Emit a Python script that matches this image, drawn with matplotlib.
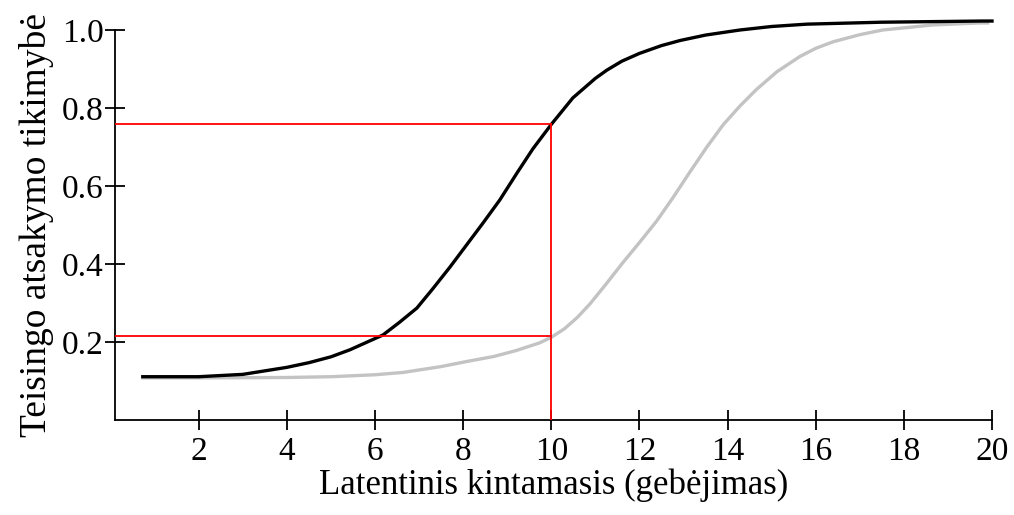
import numpy as np
import matplotlib
matplotlib.use("Agg")
import matplotlib.pyplot as plt

# values
black_x = [0.73, 2.0, 3.0, 4.0, 4.5, 5.0, 5.43, 6.18, 6.55, 6.95, 7.30, 7.70, 8.45,
           8.83, 9.22, 9.58, 10.0, 10.49, 11.0, 11.26, 11.6, 12.0, 12.5, 12.92, 13.5,
           14.28, 15.0, 15.8, 17.5, 19.8, 20.0]
black_y = [0.111, 0.111, 0.117, 0.135, 0.147, 0.162, 0.18, 0.218, 0.25, 0.287, 0.335,
           0.392, 0.505, 0.564, 0.633, 0.695, 0.758, 0.826, 0.876, 0.897, 0.92, 0.94,
           0.96, 0.973, 0.987, 1.0, 1.009, 1.015, 1.02, 1.023, 1.023]

gray_x = [0.73, 2.0, 4.0, 5.0, 6.0, 6.64, 7.5, 8.08, 8.7, 9.2, 9.74, 10.0, 10.3,
          10.6, 10.88, 11.26, 11.62, 12.0, 12.39, 12.76, 13.14, 13.53, 13.9, 14.28,
          14.66, 15.12, 15.64, 16.0, 16.4, 17.0, 17.52, 18.66, 19.7, 19.9]
gray_y = [0.108, 0.108, 0.109, 0.111, 0.116, 0.122, 0.137, 0.150, 0.163, 0.178, 0.198,
          0.212, 0.234, 0.264, 0.298, 0.351, 0.403, 0.455, 0.51, 0.57, 0.635, 0.70,
          0.757, 0.805, 0.848, 0.893, 0.932, 0.953, 0.97, 0.988, 1.0, 1.013, 1.018,
          1.018]

ref_x = 10
ref_hi = 0.76
ref_lo = 0.215

x_ticks = [2, 4, 6, 8, 10, 12, 14, 16, 18, 20]
y_ticks = [0.2, 0.4, 0.6, 0.8, 1.0]
y_labels = ['0.2', '0.4', '0.6', '0.8', '1.0']

plt.rcParams['font.family'] = ['Liberation Serif', 'DejaVu Serif']

fig = plt.figure(figsize=(10.14, 5.15), dpi=100)
ax = fig.add_axes([115 / 1014, 1 - 420 / 515, (992 - 115) / 1014, 390 / 515])

ax.plot(gray_x, gray_y, color='#c3c3c3', lw=2.4, clip_on=False, zorder=2,
        solid_joinstyle='round')
ax.plot(black_x, black_y, color='black', lw=2.4, clip_on=False, zorder=3,
        solid_joinstyle='round')

# red guide lines
x0 = 0.1
ax.plot([x0, ref_x], [ref_hi, ref_hi], color='red', lw=1.3, zorder=4)
ax.plot([x0, ref_x], [ref_lo, ref_lo], color='red', lw=1.3, zorder=4)
ax.plot([ref_x, ref_x], [0, ref_hi], color='red', lw=1.3, zorder=4)

ax.set_xlim(x0, 20)
ax.set_ylim(0, 1.0)
ax.set_xticks(x_ticks)
ax.set_yticks(y_ticks)
ax.set_yticklabels(y_labels)

for s in ['top', 'right']:
    ax.spines[s].set_visible(False)
for s in ['left', 'bottom']:
    ax.spines[s].set_linewidth(1.3)

ax.tick_params(direction='inout', length=14, width=1.3, labelsize=24)
ax.tick_params(axis='y', pad=1)
ax.tick_params(axis='x', pad=5)

ax.set_xlabel('Latentinis kintamasis (gebėjimas)', fontsize=25, labelpad=1)
ax.set_ylabel('Teisingo atsakymo tikimybė', fontsize=27, labelpad=6)

fig.savefig('out.png', dpi=100)
